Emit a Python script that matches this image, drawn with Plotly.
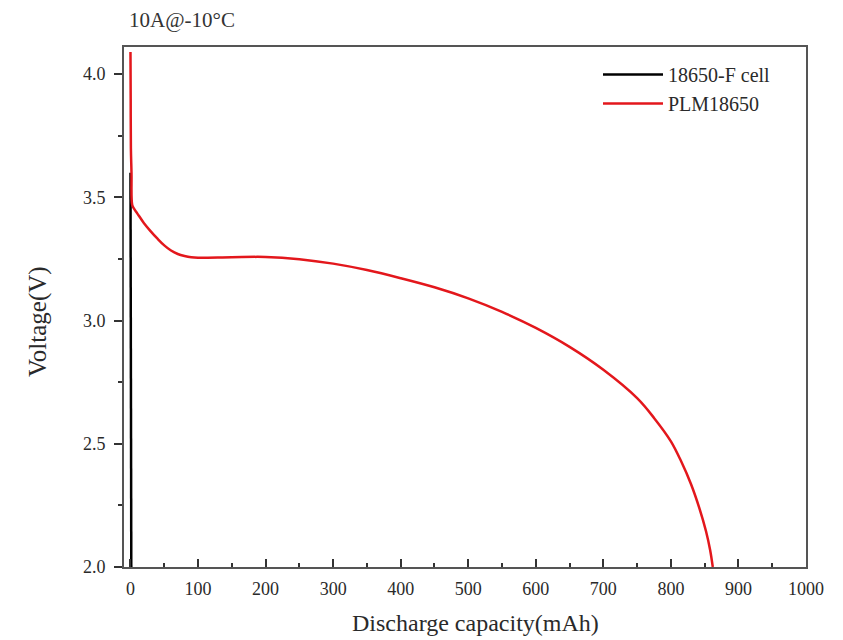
import plotly.graph_objects as go

# Data
black_x = [0.0, 0.3, 0.6, 0.9, 1.2]
black_y = [3.60, 3.20, 2.80, 2.40, 2.00]

red_x = [0, 0.3, 0.6, 1.5, 2.5, 5, 10, 20, 30, 40, 50, 60, 70, 80, 90, 100, 150, 200,
         250, 300, 350, 400, 450, 500, 550, 600, 650, 700, 750, 775, 800, 815, 830,
         842, 852, 858, 862]
red_y = [4.09, 3.90, 3.70, 3.60, 3.47, 3.455, 3.435, 3.395, 3.362, 3.332, 3.305, 3.284,
         3.270, 3.262, 3.257, 3.255, 3.257, 3.258, 3.249, 3.231, 3.205, 3.172, 3.135,
         3.090, 3.035, 2.970, 2.893, 2.800, 2.685, 2.605, 2.51, 2.43, 2.335,
         2.24, 2.145, 2.07, 2.0]

x_ticks = [0, 100, 200, 300, 400, 500, 600, 700, 800, 900, 1000]
y_ticks = [2.0, 2.5, 3.0, 3.5, 4.0]

FONT = "Liberation Serif, Times New Roman, serif"
TXT = "#2a2a2a"

L, R, T, B = 124, 37, 47, 73
W, H = 843, 640
PW, PH = W - L - R, H - T - B


def px(xp):
    return (xp - L) / PW


def py(yp):
    return (H - B - yp) / PH


fig = go.Figure()
fig.add_trace(go.Scatter(x=black_x, y=black_y, mode="lines", name="18650-F cell",
                         line=dict(color="#000000", width=2.5)))
fig.add_trace(go.Scatter(x=red_x, y=red_y, mode="lines", name="PLM18650",
                         line=dict(color="#e3171c", width=2.5, shape="spline", smoothing=1.0)))

fig.update_layout(
    width=W, height=H,
    margin=dict(l=L, r=R, t=T, b=B),
    paper_bgcolor="white", plot_bgcolor="white",
    font=dict(family=FONT, color=TXT),
    showlegend=True,
    legend=dict(x=px(598), y=py(55), xanchor="left", yanchor="top",
                bgcolor="rgba(0,0,0,0)", font=dict(size=20, family=FONT, color=TXT),
                tracegroupgap=0, itemwidth=60),
    annotations=[
        dict(text="10A@-10°C", x=px(127), y=py(20), xref="paper", yref="paper",
             showarrow=False, font=dict(size=21, family=FONT, color="#333333"),
             xanchor="left", yanchor="middle"),
        dict(text="Discharge capacity(mAh)", x=px(475), y=py(623), xref="paper", yref="paper",
             showarrow=False, font=dict(size=24, family=FONT, color=TXT),
             xanchor="center", yanchor="middle"),
        dict(text="Voltage(V)", x=px(38), y=py(322), xref="paper", yref="paper",
             showarrow=False, font=dict(size=25, family=FONT, color=TXT), textangle=-90,
             xanchor="center", yanchor="middle"),
    ],
)

fig.update_xaxes(
    range=[-9.6, 1000], tickvals=x_ticks, ticktext=[str(v) for v in x_ticks],
    ticks="inside", ticklen=8, tickwidth=1.5, tickcolor="#333333",
    showline=True, linecolor="#555555", linewidth=2, mirror=True,
    showgrid=False, zeroline=False,
    tickfont=dict(size=18, family=FONT, color=TXT),
    ticklabelstandoff=4,
    minor=dict(dtick=50, tick0=0, ticks="inside", ticklen=4, tickwidth=1.5, tickcolor="#333333"),
)
fig.update_yaxes(
    range=[2.0, 4.11], tickvals=y_ticks, ticktext=["2.0", "2.5", "3.0", "3.5", "4.0"],
    ticks="outside", ticklen=8, tickwidth=1.5, tickcolor="#333333",
    showline=True, linecolor="#555555", linewidth=2, mirror=True,
    showgrid=False, zeroline=False,
    tickfont=dict(size=18, family=FONT, color=TXT),
    ticklabelstandoff=5,
    minor=dict(dtick=0.25, tick0=2.0, ticks="outside", ticklen=4, tickwidth=1.5, tickcolor="#333333"),
)

fig.write_html("out.html")
